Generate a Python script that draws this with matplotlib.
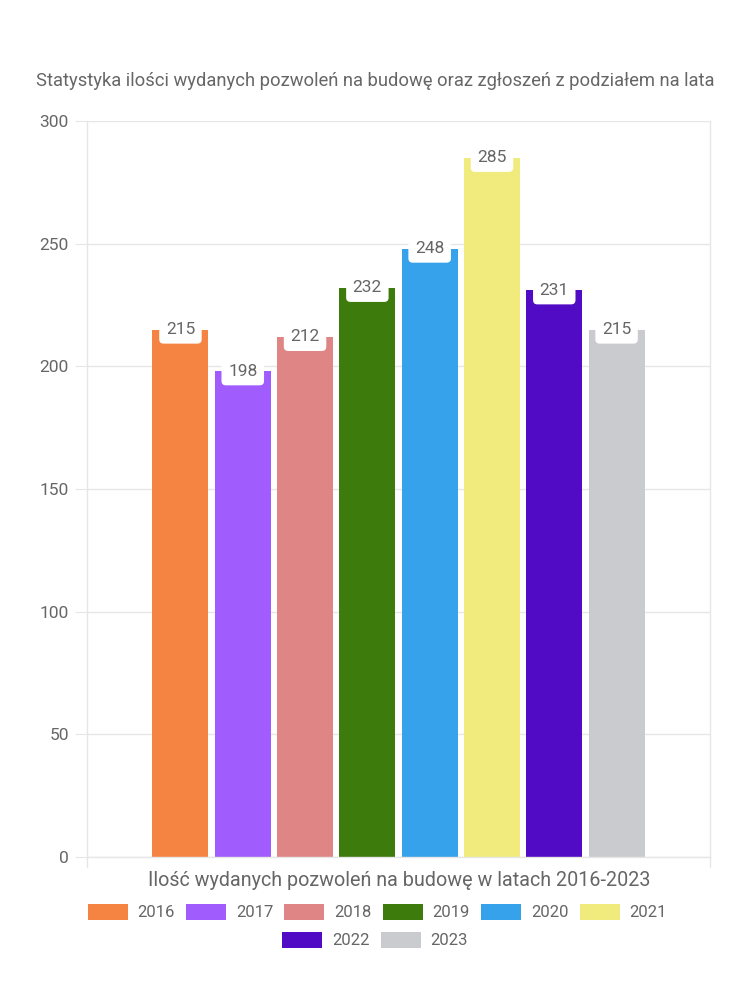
import matplotlib.pyplot as plt
from matplotlib.patches import Patch

plt.rcParams['font.family'] = ['Roboto', 'DejaVu Sans']

# data
years = ['2016', '2017', '2018', '2019', '2020', '2021', '2022', '2023']
permits = [215, 198, 212, 232, 248, 285, 231, 215]
colors = ['#F58442', '#A05CFC', '#E08585', '#3E7B0D',
          '#36A2EB', '#F0EB7C', '#520BC4', '#C9CBCF']
y_ticks = [0, 50, 100, 150, 200, 250, 300]

title = 'Statystyka ilości wydanych pozwoleń na budowę oraz zgłoszeń z podziałem na lata'
xlabel = 'Ilość wydanych pozwoleń na budowę w latach 2016-2023'

txt = '#666666'
grid = '#e6e6e6'

fig = plt.figure(figsize=(7.5, 10), dpi=100)
ax = fig.add_axes([0.116, 0.143, 0.8307, 0.736])

x = list(range(len(years)))
bars = ax.bar(x, permits, width=0.9, color=colors, zorder=2)

# value labels in white rounded boxes centred on bar tops
for xi, v in zip(x, permits):
    ax.text(xi, v, str(v), ha='center', va='center', fontsize=12.5, color=txt,
            zorder=3,
            bbox=dict(boxstyle='round,pad=0.38,rounding_size=0.25',
                      facecolor='white', edgecolor='none'))

ax.set_xlim(-1.5, 8.5)
ax.set_ylim(0, 300)
ax.set_yticks(y_ticks)
ax.set_yticklabels([str(t) for t in y_ticks], fontsize=12.5, color=txt)
ax.set_xticks([])
ax.tick_params(axis='y', length=9, color=grid, pad=4)
ax.grid(axis='y', color=grid, linewidth=1, zorder=0)
for s in ax.spines.values():
    s.set_color(grid)
    s.set_linewidth(1)
ax.spines['top'].set_visible(False)

# small ticks under the x axis at both ends
for xe in (-1.5, 8.5):
    ax.plot([xe, xe], [0, -4], color=grid, lw=1, clip_on=False)

fig.text(0.5, 0.919, title, ha='center', va='center', fontsize=13.2, color=txt)
fig.text(0.532, 0.12, xlabel, ha='center', va='center', fontsize=14.2, color=txt)

handles = [Patch(facecolor=c, edgecolor='none') for c in colors]
common = dict(frameon=False, fontsize=12, handlelength=2.4, handleheight=1.08,
              handletextpad=0.6, columnspacing=0.66, labelcolor=txt,
              borderpad=0, borderaxespad=0)
fig.legend(handles[:6], years[:6], ncol=6, loc='center',
           bbox_to_anchor=(0.503, 0.088), **common)
fig.legend(handles[6:], years[6:], ncol=2, loc='center',
           bbox_to_anchor=(0.5, 0.06), **common)

plt.savefig('out.png', dpi=100)
